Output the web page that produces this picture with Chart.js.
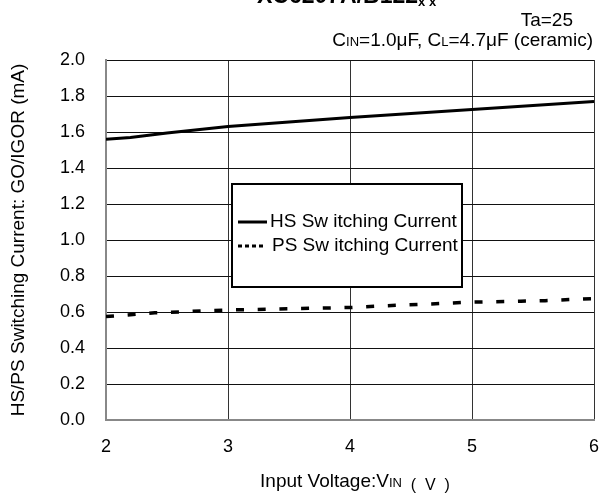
<!DOCTYPE html>
<html>
<head>
<meta charset="utf-8">
<script src="https://cdn.jsdelivr.net/npm/chart.js@4"></script>
<style>
  html, body { margin: 0; padding: 0; background: #fff; }
  #chart { display: block; }
</style>
</head>
<body>
<canvas id="chart" width="600" height="499"></canvas>
<script>
// data
const vinHS = [2.0, 2.2, 2.5, 3.0, 3.5, 4.0, 4.5, 5.0, 5.5, 6.0];
const hsCurrent = [1.56, 1.57, 1.595, 1.63, 1.655, 1.68, 1.703, 1.725, 1.747, 1.77];
const vinPS = [2.0, 2.2, 2.4, 2.6, 2.8, 3.0, 3.5, 4.0, 4.3, 4.7, 5.0, 5.4, 5.6, 6.0];
const psCurrent = [0.575, 0.585, 0.596, 0.6, 0.607, 0.611, 0.618, 0.625, 0.635, 0.646, 0.655, 0.66, 0.663, 0.675];
const seriesLabels = ["HS Sw itching Current", "PS Sw itching Current"];
const xTicks = [2, 3, 4, 5, 6];
const yTicks = [0, 0.2, 0.4, 0.6, 0.8, 1.0, 1.2, 1.4, 1.6, 1.8, 2.0];

const FONT = "'Liberation Sans', Arial, sans-serif";
const toXY = (xs, ys) => xs.map((x, i) => ({ x: x, y: ys[i] }));

// draw a run of text pieces with different fonts, left to right
function drawRuns(ctx, runs, x, y, align) {
  let total = 0;
  runs.forEach((r) => { ctx.font = r[1]; total += ctx.measureText(r[0]).width; });
  let cx = align === "right" ? x - total : align === "center" ? x - total / 2 : x;
  runs.forEach((r) => {
    ctx.font = r[1];
    ctx.fillText(r[0], cx, y + (r[2] || 0));
    cx += ctx.measureText(r[0]).width;
  });
}

// ======================
// TEXT + LEGEND BOX
// ======================
const annotations = {
  id: "annotations",
  afterDraw(chart) {
    const ctx = chart.ctx;
    ctx.save();
    ctx.fillStyle = "#000";
    ctx.textBaseline = "alphabetic";

    // clipped title at top
    drawRuns(ctx, [["XC6207A/B122", "bold 23px " + FONT], ["x x", "bold 13px " + FONT, 3]], 257, 3, "left");

    drawRuns(ctx, [["Ta=25", "19px " + FONT]], 573, 26, "right");
    drawRuns(ctx, [
      ["C", "19px " + FONT], ["IN", "13px " + FONT],
      ["=1.0\u03bcF, C", "19px " + FONT], ["L", "13px " + FONT],
      ["=4.7\u03bcF (ceramic)", "19px " + FONT],
    ], 593, 46, "right");

    // x axis title
    drawRuns(ctx, [
      ["Input Voltage:V", "19px " + FONT], ["IN", "13px " + FONT],
      ["  (  V  )", "16px " + FONT, 3],
    ], 355, 487, "center");

    // legend box
    ctx.fillStyle = "#fff";
    ctx.fillRect(232, 184, 230, 103);
    ctx.strokeStyle = "#000";
    ctx.lineWidth = 2;
    ctx.strokeRect(232, 184, 230, 103);

    ctx.lineWidth = 3;
    ctx.beginPath();
    ctx.moveTo(238, 222);
    ctx.lineTo(267, 222);
    ctx.stroke();

    ctx.setLineDash([4, 3]);
    ctx.beginPath();
    ctx.moveTo(238, 246);
    ctx.lineTo(264, 246);
    ctx.stroke();
    ctx.setLineDash([]);

    ctx.fillStyle = "#000";
    ctx.textBaseline = "middle";
    ctx.font = "19px " + FONT;
    ctx.fillText(seriesLabels[0], 270, 222);
    ctx.fillText(seriesLabels[1], 272, 246);
    ctx.restore();
  },
};

new Chart(document.getElementById("chart"), {
  type: "scatter",
  data: {
    datasets: [
      {
        label: seriesLabels[0],
        data: toXY(vinHS, hsCurrent),
        showLine: true,
        borderColor: "#000",
        borderWidth: 3,
        pointRadius: 0,
        tension: 0,
      },
      {
        label: seriesLabels[1],
        data: toXY(vinPS, psCurrent),
        showLine: true,
        borderColor: "#000",
        borderWidth: 3.5,
        borderDash: [8, 13.7],
        borderCapStyle: "butt",
        pointRadius: 0,
        tension: 0,
      },
    ],
  },
  options: {
    responsive: false,
    animation: false,
    devicePixelRatio: 1,
    layout: { padding: { top: 60, right: 6, left: 0, bottom: 0 } },
    plugins: {
      legend: { display: false },
      tooltip: { enabled: false },
    },
    scales: {
      x: {
        type: "linear",
        min: 2,
        max: 6,
        afterBuildTicks: (s) => { s.ticks = xTicks.map((v) => ({ value: v })); },
        afterFit: (s) => { s.height = 79; s.paddingLeft = 0; s.paddingRight = 0; },
        ticks: { color: "#000", padding: 16, font: { family: FONT, size: 18 }, maxRotation: 0 },
        grid: { color: "#333", lineWidth: 1, drawTicks: false },
        border: { color: "#888", width: 2 },
      },
      y: {
        min: 0,
        max: 2,
        afterBuildTicks: (s) => { s.ticks = yTicks.map((v) => ({ value: v })); },
        afterFit: (s) => { s.width = 106; s.paddingTop = 0; s.paddingBottom = 0; },
        ticks: {
          color: "#000",
          padding: 21,
          font: { family: FONT, size: 18 },
          callback: (v) => Number(v).toFixed(1),
        },
        grid: { color: "#111", lineWidth: 1, drawTicks: false },
        border: { color: "#888", width: 2 },
        title: {
          display: true,
          text: "HS/PS Switching Current: GO/IGOR (mA)",
          color: "#000",
          font: { family: FONT, size: 19 },
          padding: { top: 7, bottom: 0 },
        },
      },
    },
  },
  plugins: [annotations],
});
</script>
</body>
</html>
